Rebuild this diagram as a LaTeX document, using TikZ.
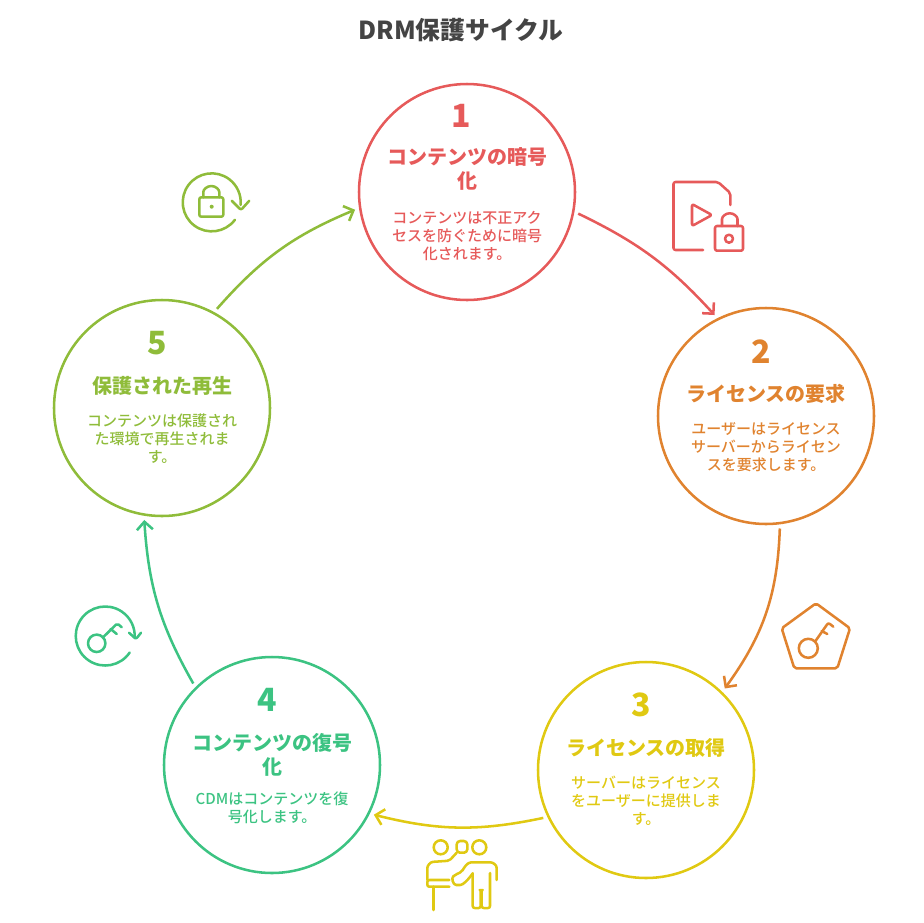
\documentclass[tikz,border=0pt]{standalone}
\usepackage{fontspec}
\setmainfont{Noto Sans CJK JP}
\newfontfamily\bodyfont{Noto Sans CJK JP Medium}
\usetikzlibrary{arrows.meta}
\definecolor{stepred}{HTML}{E65A5A}
\definecolor{steporange}{HTML}{E0832F}
\definecolor{stepyellow}{HTML}{E0C912}
\definecolor{stepgreen}{HTML}{3CC382}
\definecolor{stepolive}{HTML}{8FBC3A}
\definecolor{titlegray}{HTML}{444444}
\begin{document}
\begin{tikzpicture}[x=0.75pt,y=-0.75pt,
   every node/.style={inner sep=0pt},
   stepcircle/.style={draw,circle,line width=1.9pt,minimum size=162pt,outer sep=4pt},
   numtext/.style={font=\fontsize{24}{26}\selectfont\bfseries},
   headtext/.style={font=\fontsize{15}{18}\selectfont\bfseries,align=center},
   bodytext/.style={font=\bodyfont\fontsize{11.25}{13.5}\selectfont,align=center},
   flow/.style={line width=1.9pt,-{Straight Barb[length=6pt,width=12pt,line width=1.9pt]}},
   icon/.style={line width=1.9pt,line cap=round,line join=round,rounded corners=1.5pt}]
\useasboundingbox (0,0) rectangle (924,922);
\node[font=\fontsize{18.6}{20}\selectfont\bfseries,text=titlegray] (title) at (461,30) {DRM保護サイクル};

\node[stepcircle,draw=stepred] (c1) at (467,192) {};
\node[numtext,text=stepred] (num1) at (461,116) {1};
\node[headtext,text=stepred] (head1) at (467,169) {コンテンツの暗号\\化};
\node[bodytext,text=stepred] (body1) at (467,236) {コンテンツは不正アク\\セスを防ぐために暗号\\化されます。};

\node[stepcircle,draw=steporange] (c2) at (766,416) {};
\node[numtext,text=steporange] (num2) at (761,352) {2};
\node[headtext,text=steporange] (head2) at (766,394) {ライセンスの要求};
\node[bodytext,text=steporange] (body2) at (766,447) {ユーザーはライセンス\\サーバーからライセン\\スを要求します。};

\node[stepcircle,draw=stepyellow] (c3) at (646,770) {};
\node[numtext,text=stepyellow] (num3) at (641,705) {3};
\node[headtext,text=stepyellow] (head3) at (646,748) {ライセンスの取得};
\node[bodytext,text=stepyellow] (body3) at (646,801) {サーバーはライセンス\\をユーザーに提供しま\\す。};

\node[stepcircle,draw=stepgreen] (c4) at (272,765) {};
\node[numtext,text=stepgreen] (num4) at (267,700) {4};
\node[headtext,text=stepgreen] (head4) at (272,755) {コンテンツの復号\\化};
\node[bodytext,text=stepgreen] (body4) at (272,808) {CDMはコンテンツを復\\号化します。};

\node[stepcircle,draw=stepolive] (c5) at (162,408) {};
\node[numtext,text=stepolive] (num5) at (157,343) {5};
\node[headtext,text=stepolive] (head5) at (162,386) {保護された再生};
\node[bodytext,text=stepolive] (body5) at (162,439) {コンテンツは保護され\\た環境で再生されま\\す。};

\draw[flow,stepred] (c1.-11) to[bend left=11] (c2.117);
\draw[flow,steporange] (c2.-83) to[bend left=17] (c3.46);
\draw[flow,stepyellow] (c3.-155) to[bend left=13] (c4.-26);
\draw[flow,stepgreen] (c4.134) to[bend left=13] (c5.-99);
\draw[flow,stepolive] (c5.61) to[bend left=13] (c1.-171);

% file with lock
\begin{scope}[icon,stepred]
\draw (730.3,205) -- (730.3,193) -- (718,182) -- (673.5,182) -- (673.5,250) -- (703,250);
\draw (692,204) -- (712,215) -- (692,226) -- cycle;
\draw (715,226) rectangle (743,250.7);
\draw (722,226) -- (722,221) arc[start angle=180,end angle=360,radius=7.75] -- (737.5,226);
\draw (729,238.7) circle[radius=4];
\end{scope}

% pentagon with key
\begin{scope}[icon,steporange]
\draw (816,603.3) -- (850,628.3) -- (837.3,668.3) -- (794.3,668.3) -- (781.7,628.3) -- cycle;
\draw (808.3,648.3) circle[radius=9.5];
\draw (815,641.7) -- (828.3,622.7) -- (833.3,626.7);
\draw (821.7,631) -- (827.3,634);
\end{scope}

% two people with card
\begin{scope}[icon,stepyellow]
\draw (440.7,847.3) circle[radius=7];
\draw (479.3,847.3) circle[radius=7];
\draw[rounded corners=2.5pt] (456.7,841) rectangle (467.3,852.7);
\draw (456.7,852.7) -- (449.3,860.7) -- (435,861.7) .. controls (430,862) and (427.3,866) .. (427.3,870) -- (427.3,880);
\draw (449.3,880) -- (427.3,880) -- (427.3,886.7) -- (449.3,886.7);
\draw (433.3,886.7) -- (433.3,910);
\draw (472.7,873.3) -- (472.7,908) -- (480.7,908) -- (480.7,890) -- (481.7,890) -- (481.7,908) -- (490,908) -- (490,873);
\draw (496.7,880) -- (496.7,870) .. controls (496.7,865) and (493,862.3) .. (488.3,862.3) -- (473.3,862.3) .. controls (467,862.3) and (464,868) .. (461.7,871.7) -- (455,875) .. controls (451,878) and (453,885) .. (458.3,885) .. controls (463,885) and (468,880) .. (472.7,873.3);
\end{scope}

% key in cycle
\begin{scope}[icon,stepgreen]
\draw (129.7,652.5) arc[start angle=34,end angle=364,radius=29.5];
\draw (129,632.7) -- (136,639) -- (141,632.7);
\draw (96.7,643.3) circle[radius=8.7];
\draw (102.7,637.7) -- (117.3,623.3) -- (121.7,627.3);
\draw (110.7,629) -- (116.7,634);
\end{scope}

% lock in cycle
\begin{scope}[icon,stepolive]
\draw (234.9,219.8) arc[start angle=37,end angle=365,radius=29];
\draw (231.7,200.7) -- (241,210) -- (249.3,200.7);
\draw (199.3,197.3) rectangle (223.3,216.7);
\draw (203.3,197.3) -- (203.3,194) arc[start angle=180,end angle=360,radius=8] -- (219.3,197.3);
\fill (211.7,206.7) circle[radius=2];
\end{scope}
\end{tikzpicture}
\end{document}
